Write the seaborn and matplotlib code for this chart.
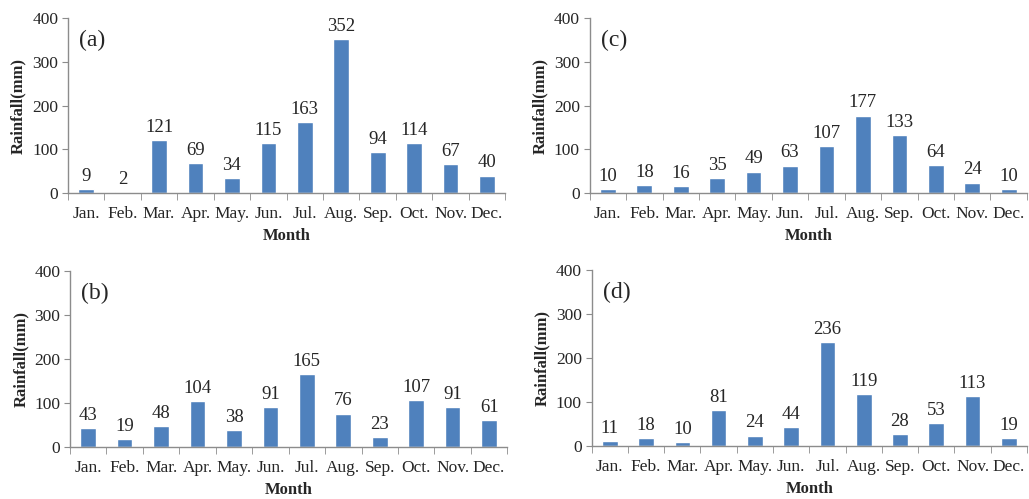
import numpy as np
import pandas as pd
import matplotlib
matplotlib.use("Agg")
import matplotlib.pyplot as plt
import seaborn as sns

months = ["Jan.", "Feb.", "Mar.", "Apr.", "May.", "Jun.",
          "Jul.", "Aug.", "Sep.", "Oct.", "Nov.", "Dec."]
rain_a = [9, 2, 121, 69, 34, 115, 163, 352, 94, 114, 67, 40]
rain_b = [43, 19, 48, 104, 38, 91, 165, 76, 23, 107, 91, 61]
rain_c = [10, 18, 16, 35, 49, 63, 107, 177, 133, 64, 24, 10]
rain_d = [11, 18, 10, 81, 24, 44, 236, 119, 28, 53, 113, 19]
panel_labels = ["(a)", "(b)", "(c)", "(d)"]

sns.set_style("ticks")
plt.rcParams["font.family"] = ["Liberation Serif", "DejaVu Serif"]

BAR = "#4F81BD"
SPINE = "#8c8c8c"


def draw_panel(ax, values, label):
    df = pd.DataFrame({"Month": months, "Rainfall": values})
    sns.barplot(data=df, x="Month", y="Rainfall", color=BAR, width=0.43,
                saturation=1, ax=ax)
    ax.bar_label(ax.containers[0], padding=3, fontsize=13.5)
    ax.set_ylim(0, 400)
    ax.set_xlim(-0.5, len(months) - 0.5)
    ax.set_yticks([0, 100, 200, 300, 400])
    ax.set_xticks(np.arange(-0.5, len(months), 1.0), minor=True)
    ax.tick_params(axis="x", which="major", length=0, labelsize=12.5, pad=9.5)
    ax.tick_params(axis="x", which="minor", length=5, color=SPINE, direction="out")
    ax.tick_params(axis="y", length=4, color=SPINE, labelsize=12.5, pad=3)
    for s in ["top", "right"]:
        ax.spines[s].set_visible(False)
    for s in ["left", "bottom"]:
        ax.spines[s].set_color(SPINE)
        ax.spines[s].set_linewidth(1.0)
    ax.set_xlabel("Month", fontsize=12, fontweight="bold", labelpad=4)
    ax.set_ylabel("Rainfall(mm)", fontsize=12, fontweight="bold", labelpad=4)
    ax.text(0.025, 0.87, label, transform=ax.transAxes, fontsize=17,
            ha="left", va="center")


fig = plt.figure(figsize=(10.29, 4.99), dpi=100)
ax_a = fig.add_axes([0.066, 0.613, 0.425, 0.351])
ax_c = fig.add_axes([0.573, 0.613, 0.425, 0.351])
ax_b = fig.add_axes([0.068, 0.104, 0.425, 0.353])
ax_d = fig.add_axes([0.575, 0.106, 0.423, 0.353])

for ax, vals, lab in zip([ax_a, ax_b, ax_c, ax_d],
                         [rain_a, rain_b, rain_c, rain_d], panel_labels):
    draw_panel(ax, vals, lab)

fig.savefig("out.png", dpi=100)
